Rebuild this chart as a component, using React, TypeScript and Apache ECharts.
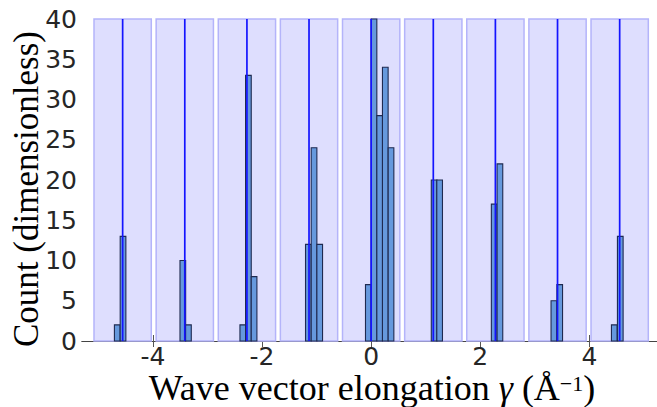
import React, { useEffect, useRef } from "react";
import * as echarts from "echarts";

// Tick labels
const xTickValues = [-4, -2, 0, 2, 4];
const yMin = 0;
const yMax = 40;
const yStep = 5;

// Reference peak positions (vertical blue lines + shaded bands)
const peakPositions = [-4.555, -3.416, -2.277, -1.139, 0, 1.139, 2.277, 3.416, 4.555];

// Histogram bins: centers and counts
const binCenters = [
  -4.654, -4.548,
  -3.452, -3.349,
  -2.353, -2.25, -2.146,
  -1.151, -1.047, -0.943,
  -0.052, 0.052, 0.156, 0.259, 0.364,
  1.154, 1.255,
  2.255, 2.36,
  3.349, 3.456,
  4.456, 4.566,
];
const binCounts = [
  2, 13,
  10, 2,
  2, 33, 8,
  12, 24, 12,
  7, 40, 28, 34, 24,
  20, 20,
  17, 22,
  5, 7,
  2, 13,
];
const binWidth = 0.104;
const bandHalfWidth = 0.525;

const xMin = -5.3;
const xMax = 5.23;

const yTitle = "Count (dimensionless)";
const xTitle = "{a|Wave vector elongation }{g|γ}{a| (Å}{s|−1}{a|)}";

export default function App() {
  const ref = useRef<HTMLDivElement>(null);

  useEffect(() => {
    if (!ref.current) return;
    const chart = echarts.init(ref.current, undefined, { renderer: "svg" });

    const serif = "Liberation Serif";
    const sans = "DejaVu Sans";
    const axisColor = "#444";

    const xAxisCommon = {
      type: "value" as const,
      min: xMin,
      max: xMax,
      splitLine: { show: false },
      axisLine: { show: true, lineStyle: { color: axisColor, width: 1 } },
      axisTick: {
        show: true,
        inside: true,
        length: 6,
        customValues: xTickValues,
        lineStyle: { color: "#555", width: 1 },
      },
    };
    const yAxisCommon = {
      type: "value" as const,
      min: yMin,
      max: yMax,
      interval: yStep,
      splitLine: { show: false },
      axisLine: { show: true, lineStyle: { color: axisColor, width: 1 } },
      axisTick: { show: true, inside: true, length: 6, lineStyle: { color: "#555", width: 1 } },
    };

    const bandData = peakPositions.map((p) => [p]);
    const lineData = peakPositions.map((p) => [p]);
    const barData = binCenters.map((c, i) => [c, binCounts[i]]);

    chart.setOption({
      animation: false,
      grid: {
        left: 82,
        top: 19,
        width: 574.5,
        height: 322,
        containLabel: false,
        outerBoundsMode: "none",
      },
      graphic: [
        {
          type: "text",
          x: 26,
          y: 189,
          rotation: Math.PI / 2,
          style: {
            text: yTitle,
            fontFamily: serif,
            fontSize: 35,
            fill: "#000",
            textAlign: "center",
            textVerticalAlign: "middle",
          },
        },
        {
          type: "text",
          x: 372,
          y: 388,
          style: {
            text: xTitle,
            textAlign: "center",
            textVerticalAlign: "middle",
            rich: {
              a: { fontFamily: serif, fontSize: 36, fill: "#000", lineHeight: 32 },
              g: { fontFamily: serif, fontSize: 36, fill: "#000", lineHeight: 32, fontStyle: "italic" },
              s: { fontFamily: serif, fontSize: 22, fill: "#000", lineHeight: 14, verticalAlign: "top" },
            },
          },
        },
      ],
      xAxis: [
        {
          ...xAxisCommon,
          position: "bottom",
          axisLabel: {
            show: true,
            customValues: xTickValues,
            fontFamily: sans,
            fontSize: 25,
            lineHeight: 24,
            color: "#262626",
            margin: 3,
            formatter: (v: number) => String(v),
          },
        },
        {
          ...xAxisCommon,
          position: "top",
          axisLabel: { show: false },
        },
      ],
      yAxis: [
        {
          ...yAxisCommon,
          position: "left",
          axisLabel: {
            show: true,
            fontFamily: sans,
            fontSize: 25,
            color: "#262626",
            margin: 5,
          },
        },
        {
          ...yAxisCommon,
          position: "right",
          axisLabel: { show: false },
        },
      ],
      series: [
        {
          type: "custom",
          name: "bands",
          xAxisIndex: 0,
          yAxisIndex: 0,
          data: bandData,
          renderItem: (params: any, api: any) => {
            const c = api.value(0);
            const p0 = api.coord([c - bandHalfWidth, yMax]);
            const p1 = api.coord([c + bandHalfWidth, yMin]);
            return {
              type: "rect",
              shape: { x: p0[0], y: p0[1], width: p1[0] - p0[0], height: p1[1] - p0[1] },
              style: { fill: "#dedefe", stroke: "#b4b4fa", lineWidth: 1.5 },
            };
          },
        },
        {
          type: "custom",
          name: "counts",
          xAxisIndex: 0,
          yAxisIndex: 0,
          data: barData,
          renderItem: (params: any, api: any) => {
            const c = api.value(0);
            const h = api.value(1);
            const p0 = api.coord([c - binWidth / 2, h]);
            const p1 = api.coord([c + binWidth / 2, 0]);
            return {
              type: "rect",
              shape: { x: p0[0], y: p0[1], width: p1[0] - p0[0], height: p1[1] - p0[1] },
              style: { fill: "#6699dd", stroke: "#1f2a50", lineWidth: 1.1 },
            };
          },
        },
        {
          type: "custom",
          name: "peaks",
          xAxisIndex: 0,
          yAxisIndex: 0,
          data: lineData,
          renderItem: (params: any, api: any) => {
            const c = api.value(0);
            const p0 = api.coord([c, yMax]);
            const p1 = api.coord([c, yMin]);
            return {
              type: "line",
              shape: { x1: p0[0], y1: p0[1], x2: p1[0], y2: p1[1] },
              style: { stroke: "#1414ff", lineWidth: 1.7 },
            };
          },
        },
      ],
    });

    return () => {
      chart.dispose();
    };
  }, []);

  return (
    <div
      ref={ref}
      style={{ position: "fixed", left: 0, top: 0, width: 657, height: 407, background: "#fff" }}
    />
  );
}
